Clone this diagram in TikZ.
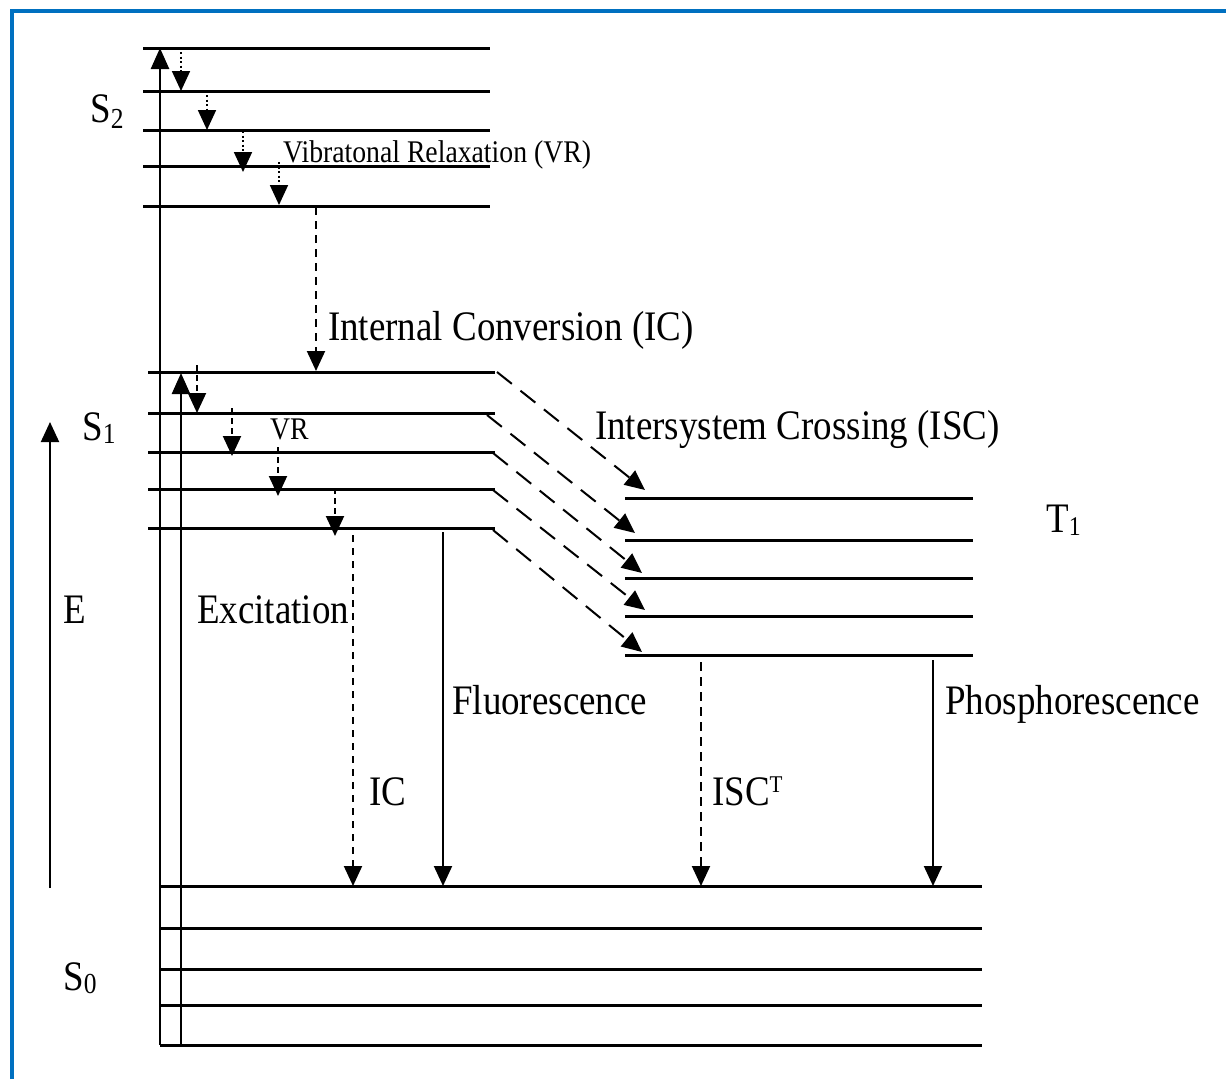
\documentclass[tikz,border=0pt]{standalone}
\usepackage{fontspec}
\setmainfont{Liberation Serif}[FakeStretch=0.88]
\usetikzlibrary{arrows.meta}
\definecolor{bblue}{RGB}{0,112,192}
\begin{document}
\begin{tikzpicture}[x=1pt,y=-1pt,
  lvl/.style={line width=3pt},
  vline/.style={line width=2.6pt},
  tipa/.style={-{Triangle[length=20pt,width=18pt]}},
  dotarr/.style={tipa,line width=1.8pt,dash pattern=on 2pt off 2.5pt},
  vrarr/.style={tipa,line width=2pt,dash pattern=on 6pt off 4pt},
  icarr/.style={tipa,line width=2pt,dash pattern=on 8pt off 6pt},
  iscarr/.style={tipa,line width=2pt,dash pattern=on 19pt off 11pt},
  solarr/.style={tipa,line width=2pt},
  big/.style={anchor=base west,inner sep=0pt,font=\fontsize{42}{48}\selectfont},
  small/.style={anchor=base west,inner sep=0pt,font=\fontsize{31.5}{36}\selectfont}
]
\useasboundingbox (0,0) rectangle (1226,1079);
\fill[white] (0,0) rectangle (1226,1079);
% blue frame (top and left edges visible)
\draw[bblue,line width=4pt] (12,1079) -- (12,11) -- (1226,11);

% ---------- S2 levels ----------
\foreach \y in {48,91,130,166,206} \draw[lvl] (143,\y) -- (490,\y);
% ---------- S1 levels ----------
\foreach \y in {372,413,452,489,528} \draw[lvl] (148,\y) -- (495,\y);
% ---------- T1 levels ----------
\foreach \y in {498,540,578,616,655} \draw[lvl] (625,\y) -- (973,\y);
% ---------- S0 levels ----------
\foreach \y in {886,928,969,1005,1045} \draw[lvl] (160,\y) -- (982,\y);

% excitation arrows
\coordinate (exA0) at (160,1045);
\coordinate (exA1) at (160,48);
\coordinate (exB0) at (181,1045);
\coordinate (exB1) at (181,373);
\draw[vline,-{Triangle[length=21pt,width=18pt]}] (exA0) -- (exA1);
\draw[vline,-{Triangle[length=21pt,width=18pt]}] (exB0) -- (exB1);

% S2 vibrational relaxation (dotted)
\draw[dotarr] (181,52) -- (181,91);
\draw[dotarr] (207,95) -- (207,130);
\draw[dotarr] (243,131) -- (243,172);
\draw[dotarr] (279,162) -- (279,205);

% internal conversion S2 -> S1
\coordinate (ic0) at (316,207);
\coordinate (ic1) at (316,371);
\draw[icarr] (ic0) -- (ic1);

% S1 vibrational relaxation (dashed)
\draw[vrarr] (197,365) -- (197,413);
\draw[vrarr] (232,408) -- (232,456);
\draw[vrarr] (278,447) -- (278,496);
\draw[vrarr] (335,488) -- (335,536);

% intersystem crossing S1 -> T1
\draw[iscarr] (497,372) -- (645,490);
\draw[iscarr] (487,415) -- (635,533);
\draw[iscarr] (493,453) -- (642,573);
\draw[iscarr] (493,490) -- (645,610);
\draw[iscarr] (493,530) -- (642,652);

% S1 -> S0
\coordinate (f0) at (443,532);
\coordinate (f1) at (443,886);
\coordinate (icb0) at (353,535);
\coordinate (icb1) at (353,886);
\draw[icarr,dash pattern=on 7pt off 6pt] (icb0) -- (icb1);
\draw[solarr] (f0) -- (f1);

% T1 -> S0
\coordinate (it0) at (701,662);
\coordinate (it1) at (701,886);
\coordinate (p0) at (933,660);
\coordinate (p1) at (933,886);
\draw[icarr,dash pattern=on 9pt off 6pt] (it0) -- (it1);
\draw[solarr] (p0) -- (p1);

% energy axis
\coordinate (e0) at (50,888);
\coordinate (e1) at (50,422);
\draw[solarr] (e0) -- (e1);

% ---------- labels ----------
\node[big] (lS2) at (90,122) {S\raisebox{-6pt}{\fontsize{29}{30}\selectfont 2}};
\node[big] (lS1) at (82,440) {S\raisebox{-3pt}{\fontsize{29}{30}\selectfont 1}};
\node[big] (lS0) at (63,990) {S\raisebox{-3pt}{\fontsize{29}{30}\selectfont 0}};
\node[big] (lT1) at (1046,532) {T\raisebox{-3pt}{\fontsize{27}{30}\selectfont 1}};
\node[big] (lE) at (63,623) {E};
\node[small] (lVR2) at (283,162) {Vibratonal Relaxation (VR)};
\node[small] (lVR1) at (270,439) {VR};
\node[big] (lIC) at (328,340) {Internal Conversion (IC)};
\node[big] (lISC) at (595,439) {Intersystem Crossing (ISC)};
\node[big] (lEx) at (197,623) {Excitation};
\node[big] (lFl) at (452,714) {Fluorescence};
\node[big] (lPh) at (945,714) {Phosphorescence};
\node[big] (lic) at (369,805) {IC};
\node[big] (lisct) at (712,805) {ISC\raisebox{13pt}{\fontsize{24}{26}\selectfont T}};
\end{tikzpicture}
\end{document}
